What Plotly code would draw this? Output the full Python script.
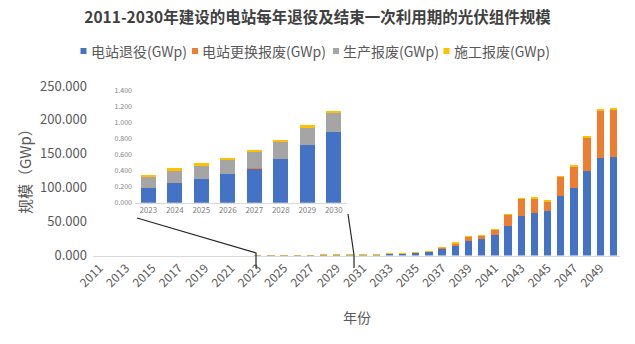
import plotly.graph_objects as go

years = [str(y) for y in range(2011, 2051)]

# 电站退役 (GWp)
retire = [0, 0, 0, 0, 0, 0, 0, 0, 0, 0, 0, 0,
          0.183, 0.25, 0.296, 0.354, 0.429, 0.546, 0.721, 0.888,
          1.0, 1.5, 2.3, 3.2, 4.5, 5.8, 10.2, 14.5, 22.0, 24.0,
          30.0, 43.8, 58.3, 63.0, 65.0, 88.3, 99.5, 124.0, 144.5, 145.5]
# 电站更换报废 (GWp)
replace = [0, 0, 0, 0, 0, 0, 0, 0, 0, 0, 0, 0,
           0, 0, 0, 0, 0.003, 0, 0, 0,
           0, 0, 0, 0, 0, 0.4, 1.6, 3.5, 5.6, 5.0,
           7.8, 16.8, 25.8, 21.6, 14.8, 28.0, 32.0, 50.5, 70.0, 70.0]
# 生产报废 (GWp)
production = [0, 0, 0, 0, 0, 0, 0, 0, 0, 0, 0, 0,
              0.138, 0.15, 0.167, 0.175, 0.196, 0.208, 0.217, 0.229,
              0.25, 0.2, 0, 0, 0, 0, 0, 0, 0, 0,
              0, 0, 0, 0, 0, 0, 0, 0, 0, 0]
# 施工报废 (GWp)
construction = [0, 0, 0, 0, 0, 0, 0, 0, 0, 0, 0, 0,
                0.025, 0.029, 0.028, 0.029, 0.029, 0.029, 0.033, 0.033,
                0.1, 0.1, 0.2, 0.2, 0.3, 0.4, 0.4, 0.5, 0.5, 0.5,
                0.5, 0.5, 0.6, 0.6, 0.6, 0.6, 0.7, 0.7, 0.7, 0.7]

series_names = ["电站退役(GWp)", "电站更换报废(GWp)", "生产报废(GWp)", "施工报废(GWp)"]
series_colors = ["#4472C4", "#ED7D31", "#A5A5A5", "#FFC000"]
series_values = [retire, replace, production, construction]

inset_start, inset_end = years.index("2023"), years.index("2030") + 1

main_ticks = years[::2]
y_ticks = [0, 50, 100, 150, 200, 250]
inset_y_ticks = [0, 0.2, 0.4, 0.6, 0.8, 1.0, 1.2, 1.4]

W, H = 635, 344
def px(x):
    return x / W
def py(y):
    return 1 - y / H

FONT = "Noto Sans CJK SC"
GREY = "#595959"

fig = go.Figure()
for name, color, vals in zip(series_names, series_colors, series_values):
    fig.add_trace(go.Bar(x=years, y=vals, name=name, marker_color=color,
                         marker_line_width=0, xaxis="x", yaxis="y", showlegend=False))
for name, color, vals in zip(series_names, series_colors, series_values):
    fig.add_trace(go.Bar(x=years[inset_start:inset_end], y=vals[inset_start:inset_end],
                         name=name, marker_color=color, marker_line_width=0,
                         showlegend=False, xaxis="x2", yaxis="y2"))

# custom legend (square + text) laid out in pixels
legend_x = [80.5, 192, 333, 443.5]
legend_y = 51
shapes = []
annotations = []
for name, color, lx in zip(series_names, series_colors, legend_x):
    shapes.append(dict(type="rect", xref="paper", yref="paper",
                       x0=px(lx), x1=px(lx + 6), y0=py(legend_y + 3), y1=py(legend_y - 3),
                       fillcolor=color, line=dict(width=0)))
    annotations.append(dict(text=name, x=px(lx + 8), y=py(legend_y), xref="paper", yref="paper",
                            xanchor="left", yanchor="middle", showarrow=False,
                            font=dict(size=14, color=GREY)))

annotations += [
    dict(text="规模（GWp）", x=px(24), y=py(168), xref="paper", yref="paper",
         xanchor="center", yanchor="middle",
         textangle=-90, showarrow=False, font=dict(size=15, color=GREY)),
    dict(text="年份", x=px(357), y=py(317), xref="paper", yref="paper",
         xanchor="center", yanchor="middle",
         showarrow=False, font=dict(size=14, color=GREY)),
]
shapes += [
    dict(type="path", xref="paper", yref="paper",
         path=f"M {px(137)},{py(218)} L {px(256)},{py(253)} L {px(256)},{py(268)}",
         line=dict(color="#262626", width=1.2)),
    dict(type="path", xref="paper", yref="paper",
         path=f"M {px(348)},{py(214)} L {px(354)},{py(255)} L {px(354)},{py(268)}",
         line=dict(color="#262626", width=1.2)),
]

fig.update_layout(
    width=W, height=H,
    margin=dict(l=0, r=0, t=0, b=0),
    paper_bgcolor="white", plot_bgcolor="rgba(0,0,0,0)",
    barmode="stack", bargap=0.44,
    font=dict(family=FONT, color=GREY),
    showlegend=False,
    title=dict(text="<b>2011-2030年建设的电站每年退役及结束一次利用期的光伏组件规模</b>",
               x=0.5, xanchor="center", y=py(18), yanchor="middle", yref="container",
               font=dict(size=15.5, color="#404040", family=FONT)),
    xaxis=dict(domain=[px(93), px(620)], type="category", tickmode="array",
               tickvals=main_ticks, ticktext=main_ticks, tickangle=-45,
               tickfont=dict(size=12, color=GREY), showline=True, linecolor="#D9D9D9",
               linewidth=1, ticks="", showgrid=False, zeroline=False, automargin=False),
    yaxis=dict(domain=[py(255.5), py(86)], range=[0, 250], tickmode="array",
               tickvals=y_ticks, tickformat=".3f", tickfont=dict(size=13, color=GREY),
               showgrid=False, zeroline=False, showline=False, ticks="", automargin=False,
               ticklabelstandoff=5),
    xaxis2=dict(domain=[px(135), px(347)], anchor="y2", type="category",
                tickfont=dict(size=8, color="#7F7F7F"), showline=True,
                linecolor="#D9D9D9", linewidth=1, ticks="", showgrid=False, zeroline=False,
                automargin=False),
    yaxis2=dict(domain=[py(202.7), py(90.7)], anchor="x2", range=[0, 1.4],
                tickmode="array", tickvals=inset_y_ticks, tickformat=".3f",
                tickfont=dict(size=7, color="#7F7F7F"), showgrid=False,
                zeroline=False, showline=False, ticks="", automargin=False,
                ticklabelstandoff=2),
    annotations=annotations,
    shapes=shapes,
)

fig.write_html("out.html")
